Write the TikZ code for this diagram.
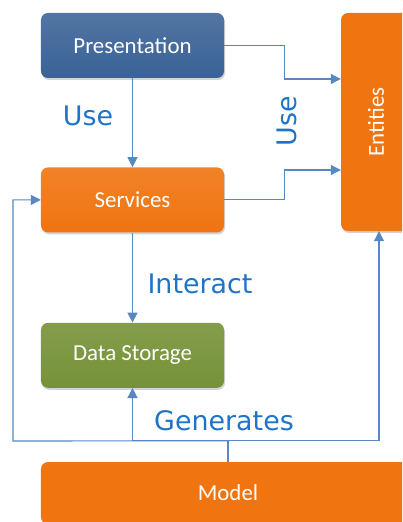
\documentclass[tikz,border=0pt]{standalone}
\usepackage{fontspec}
\setmainfont{Carlito}
\newfontfamily\labelfont{DejaVu Sans}
\usepackage{tikz}
\usetikzlibrary{positioning,arrows.meta,shadows}

\definecolor{presblue}{RGB}{58,98,150}
\definecolor{layerorange}{RGB}{240,116,16}
\definecolor{storegreen}{RGB}{118,146,56}
\definecolor{wireblue}{RGB}{88,135,196}
\definecolor{textblue}{RGB}{32,116,200}

\begin{document}
\begin{tikzpicture}[
        x=1bp, y=-1bp,
        layer/.style = {shape=rectangle, rounded corners=7bp,
                        minimum width=183bp, minimum height=65bp,
                        text=white, font=\fontsize{23}{27}\selectfont,
                        drop shadow={shadow xshift=1bp, shadow yshift=-2bp, opacity=.35}},
        wire/.style = {draw=wireblue, line width=1.1bp,
                       -{Triangle[length=10bp, width=10bp]}},
        tag/.style = {text=textblue, font=\labelfont\fontsize{27}{31}\selectfont}]
    \clip (0,0) rectangle (402,522);
    \useasboundingbox (0,0) rectangle (402,522);

    \node[layer, top color=presblue!88!white,    bottom color=presblue]    (pres)  at (132.5,45.5) {Presentation};
    \node[layer, top color=layerorange!90!white, bottom color=layerorange, below=89bp of pres] (serv) {Services};
    \node[layer, top color=storegreen!90!white,  bottom color=storegreen,  below=90bp of serv] (store) {Data Storage};
    \node[layer, fill=layerorange, minimum width=218bp, minimum height=70bp, rotate=90] (ent) at (376,122) {Entities};
    \node[layer, fill=layerorange, minimum width=374bp, minimum height=62bp] (model) at (228,493) {Model};

    % uses
    \draw[wire] (pres) -- (serv);
    \draw[wire] (pres.east) -- ++(60,0) |- ([yshift=43bp]ent.north);
    \draw[wire] (serv.east) -- ++(60,0) |- ([yshift=-48bp]ent.north);
    \draw[wire] (serv) -- (store);

    % generated by the model
    \draw[draw=wireblue, line width=1.1bp] (model.north) -- ++(0,-21) coordinate (bus);
    \draw[wire] (bus) -- (bus -| store.south) -- (store.south);
    \draw[wire] (bus) -- (13,441) |- (serv.west);
    \draw[wire] (bus) -| ([xshift=3bp]ent.west);

    \node[tag] (uselbl) at (88,116) {Use};
    \node[tag, rotate=90] (useside) at (287,121) {Use};
    \node[tag] (interact) at (200,284) {Interact};
    \node[tag] (generates) at (224,421) {Generates};
\end{tikzpicture}
\end{document}
